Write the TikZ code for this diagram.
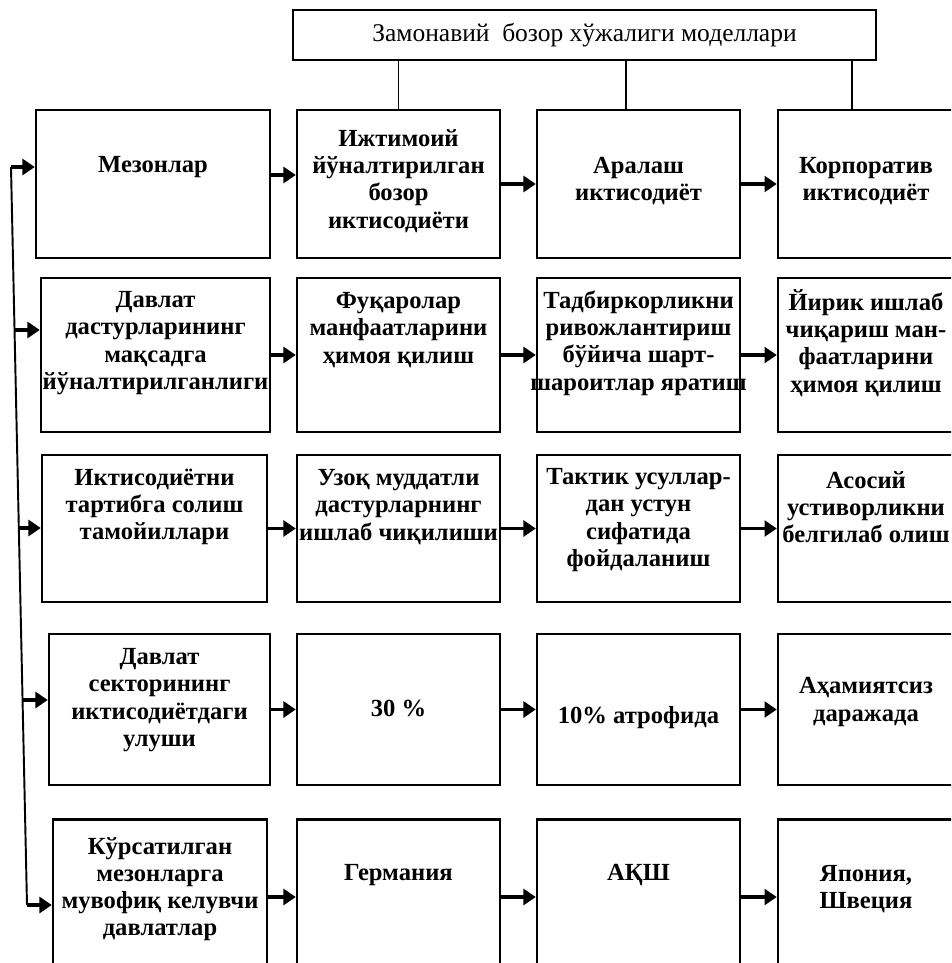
\documentclass[tikz,border=0pt]{standalone}
\usepackage{fontspec}
\setmainfont{Liberation Serif}
\usetikzlibrary{arrows.meta}

\begin{document}
\begin{tikzpicture}
            [x=0.02cm,y=-0.02cm,every node/.style={inner sep=0pt},
             box/.style={draw,line width=1.4pt,minimum width=4.06cm},
             txt/.style={align=center,font=\fontsize{14}{15.5}\selectfont\bfseries},
             arr/.style={line width=2pt,-{Triangle[length=7pt,width=9pt]}},
             link/.style={line width=1.1pt},
             r1/.style={minimum height=2.96cm},
             r2/.style={minimum height=3.08cm},
             r3/.style={minimum height=2.94cm},
             r4/.style={minimum height=3.02cm},
             r5/.style={minimum height=3.1cm}]
            \clip (0,0) rectangle (951,963);
            \node[box,minimum width=11.66cm,minimum height=1cm,font=\fontsize{14.5}{16}\selectfont] (top) at (584.5,35) {Замонавий\ \ бозор хўжалиги моделлари};
            % the boxes
            \node[box,r1,minimum width=4.68cm] (b11) at (153,184) {};
            \node[box,r1] (b12) at (398.5,184) {};
            \node[box,r1] (b13) at (638.5,184) {};
            \node[box,r1] (b14) at (879.5,184) {};
            \node[box,r2,minimum width=4.58cm] (b21) at (155.5,355) {};
            \node[box,r2] (b22) at (398.5,355) {};
            \node[box,r2] (b23) at (638.5,355) {};
            \node[box,r2] (b24) at (879.5,355) {};
            \node[box,r3,minimum width=4.5cm] (b31) at (154.5,528.5) {};
            \node[box,r3] (b32) at (398.5,528.5) {};
            \node[box,r3] (b33) at (638.5,528.5) {};
            \node[box,r3] (b34) at (879.5,528.5) {};
            \node[box,r4,minimum width=4.42cm] (b41) at (159.5,709.5) {};
            \node[box,r4] (b42) at (398.5,709.5) {};
            \node[box,r4] (b43) at (638.5,709.5) {};
            \node[box,r4] (b44) at (879.5,709.5) {};
            \node[box,r5,minimum width=4.28cm] (b51) at (160,897) {};
            \node[box,r5] (b52) at (398.5,897) {};
            \node[box,r5] (b53) at (638.5,897) {};
            \node[box,r5] (b54) at (879.5,897) {};
            % the texts
            \node[txt] (t11) at (153,167) {Мезонлар};
            \node[txt] (t12) at (398.5,181) {Ижтимоий\\йўналтирилган\\бозор\\иктисодиёти};
            \node[txt] (t13) at (638.5,181) {Аралаш\\иктисодиёт};
            \node[txt] (t14) at (866,181) {Корпоратив\\иктисодиёт};
            \node[txt] (t21) at (155.5,343) {Давлат\\дастурларининг\\мақсадга\\йўналтирилганлиги};
            \node[txt] (t22) at (398.5,330) {Фуқаролар\\манфаатларини\\ҳимоя қилиш};
            \node[txt] (t23) at (638.5,343) {Тадбиркорликни\\ривожлантириш\\бўйича шарт-\\шароитлар яратиш};
            \node[txt] (t24) at (866,343) {Йирик ишлаб\\чиқариш ман-\\фаатларини\\ҳимоя қилиш};
            \node[txt] (t31) at (154.5,507) {Иктисодиётни\\тартибга солиш\\тамойиллари};
            \node[txt] (t32) at (398.5,507) {Узоқ муддатли\\дастурларнинг\\ишлаб чиқилиши};
            \node[txt] (t33) at (638.5,520) {Тактик усуллар-\\дан устун\\сифатида\\фойдаланиш};
            \node[txt] (t34) at (866,507) {Асосий\\устиворликни\\белгилаб олиш};
            \node[txt] (t41) at (159.5,700) {Давлат\\секторининг\\иктисодиётдаги\\улуши};
            \node[txt] (t42) at (398.5,708) {30 \%};
            \node[txt] (t43) at (638.5,718) {10\% атрофида};
            \node[txt] (t44) at (866,702) {Аҳамиятсиз\\даражада};
            \node[txt] (t51) at (160,889) {Кўрсатилган\\мезонларга\\мувофиқ келувчи\\давлатлар};
            \node[txt] (t52) at (398.5,875) {Германия};
            \node[txt] (t53) at (638.5,875) {АҚШ};
            \node[txt] (t54) at (866,889) {Япония,\\Швеция};
            % lines from the title
            \coordinate (l3) at (626,0);
            \coordinate (l4) at (852,0);
            \draw[link] (top.south -| b12) -- (b12.north);
            \draw[link] (top.south -| l3) -- (b13.north -| l3);
            \draw[link] (top.south -| l4) -- (b14.north -| l4);
            % the left trunk
            \coordinate (p1) at (11,167);
            \coordinate (p2) at (14.5,330);
            \coordinate (p3) at (18.8,528);
            \coordinate (p4) at (22.6,700);
            \coordinate (p5) at (27,905);
            \draw[link] (p1) -- (p5);
            \draw[arr] (p1) -- (b11.west |- p1);
            \draw[arr] (p2) -- (b21.west |- p2);
            \draw[arr] (p3) -- (b31.west |- p3);
            \draw[arr] (p4) -- (b41.west |- p4);
            \draw[arr] (p5) -- (b51.west |- p5);
            % arrows along the rows
            \draw[arr] ([yshift=0.18cm]b11.east) -- ([yshift=0.18cm]b12.west);
            \draw[arr] (b12) -- (b13);
            \draw[arr] (b13) -- (b14);
            \draw[arr] (b21) -- (b22);
            \draw[arr] (b22) -- (b23);
            \draw[arr] (b23) -- (b24);
            \draw[arr] (b31) -- (b32);
            \draw[arr] (b32) -- (b33);
            \draw[arr] (b33) -- (b34);
            \draw[arr] (b41) -- (b42);
            \draw[arr] (b42) -- (b43);
            \draw[arr] (b43) -- (b44);
            \draw[arr] (b51) -- (b52);
            \draw[arr] (b52) -- (b53);
            \draw[arr] (b53) -- (b54);
        \end{tikzpicture}
\end{document}
